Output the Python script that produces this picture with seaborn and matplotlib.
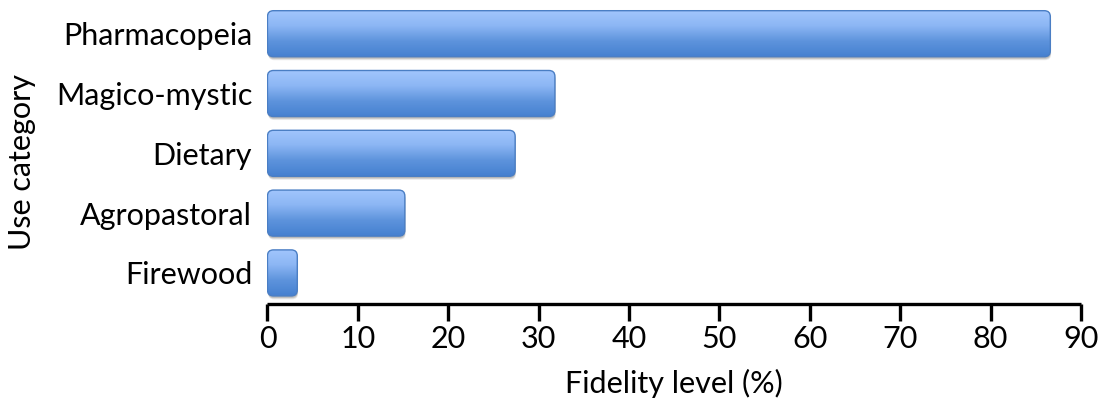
import numpy as np
import pandas as pd
import matplotlib
matplotlib.use("Agg")
import matplotlib.pyplot as plt
import seaborn as sns
from matplotlib.patches import FancyBboxPatch
from matplotlib.colors import LinearSegmentedColormap

categories = ["Pharmacopeia", "Magico-mystic", "Dietary", "Agropastoral", "Firewood"]
fidelity = [86.6, 31.8, 27.4, 15.2, 3.3]
xticks = [0, 10, 20, 30, 40, 50, 60, 70, 80, 90]

df = pd.DataFrame({"category": categories, "fidelity": fidelity})

sns.set_theme(style="white")
plt.rcParams["font.family"] = ["Lato", "DejaVu Sans"]

fig = plt.figure(figsize=(11.02, 4.04), dpi=100)
ax = fig.add_axes([0.2427, 0.2475, 0.9810 - 0.2427, 0.995 - 0.2475])

sns.barplot(data=df, x="fidelity", y="category", orient="h", ax=ax,
            width=0.77, color="#6a9ee6", saturation=1)

ax.set_xlim(0, 90)
ax.set_ylim(4.52, -0.53)

# replace the plain rectangles with rounded, gradient-filled bars
fig.canvas.draw()
inv = ax.transData
p0 = inv.transform((0, 0))
px_x = inv.transform((1, 0))[0] - p0[0]
px_y = abs(inv.transform((0, 1))[1] - p0[1])
radius_px = 6.0
r_x = radius_px / px_x
aspect = px_x / px_y

cmap = LinearSegmentedColormap.from_list(
    "bar", ["#a2c6fd", "#8cb6f4", "#5d93dc", "#4580d0"])
grad = np.linspace(0, 1, 256).reshape(-1, 1)

rects = list(ax.patches)
for rect in rects:
    x0, y0 = rect.get_x(), rect.get_y()
    w, h = rect.get_width(), rect.get_height()
    rect.set_visible(False)
    # soft drop shadow
    for dx, dy, a in [(2.0, 3.5, 0.08), (1.4, 2.6, 0.10), (0.8, 1.8, 0.12)]:
        sh = FancyBboxPatch((x0 + dx / px_x * 0.4, y0 + dy / px_y),
                            w, h,
                            boxstyle=f"round,pad=0,rounding_size={r_x}",
                            mutation_aspect=aspect,
                            facecolor="#000000", edgecolor="none",
                            alpha=a, zorder=1)
        ax.add_patch(sh)
    box = FancyBboxPatch((x0, y0), w, h,
                         boxstyle=f"round,pad=0,rounding_size={r_x}",
                         mutation_aspect=aspect,
                         facecolor="none", edgecolor="#4a7ec4",
                         linewidth=1.0, zorder=3)
    ax.add_patch(box)
    im = ax.imshow(grad, cmap=cmap, aspect="auto",
                   extent=(x0, x0 + w, y0 + h, y0),
                   origin="upper", zorder=2, interpolation="bilinear")
    im.set_clip_path(box)

ax.set_xlim(0, 90)
ax.set_ylim(4.52, -0.53)

ax.set_xticks(xticks)
ax.set_xticklabels([str(t) for t in xticks])
ax.tick_params(axis="x", direction="out", length=12, width=2.4,
               color="black", labelsize=22, pad=3, bottom=True)
ax.tick_params(axis="y", length=0, labelsize=22, pad=11)
for lbl in ax.get_yticklabels() + ax.get_xticklabels():
    lbl.set_color("black")

for side in ["top", "right", "left"]:
    ax.spines[side].set_visible(False)
ax.spines["bottom"].set_linewidth(2.4)
ax.spines["bottom"].set_color("black")
ax.spines["bottom"].set_capstyle("butt")

ax.set_xlabel("Fidelity level (%)", fontsize=22, color="black")
ax.xaxis.set_label_coords(0.5, -0.215)
ax.set_ylabel("Use category", fontsize=22, color="black")
ax.yaxis.set_label_coords(-0.284, 0.47)

fig.savefig("out.png", dpi=100, facecolor="white")
